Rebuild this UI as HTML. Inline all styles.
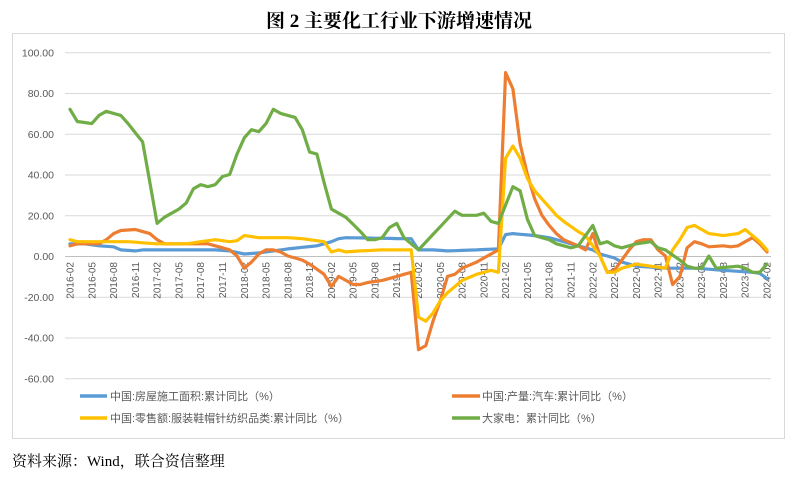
<!DOCTYPE html>
<html><head><meta charset="utf-8"><style>
body{margin:0;background:#fff;width:799px;height:480px;overflow:hidden}
svg{display:block}
</style></head><body>
<svg id="s" width="799" height="480" xmlns="http://www.w3.org/2000/svg">
<text x="399" y="27" text-anchor="middle" font-family="Liberation Serif,'Noto Serif CJK SC',serif" font-size="19" font-weight="bold" fill="#000">图 2  主要化工行业下游增速情况</text>
<rect x="12.5" y="33.5" width="772" height="405" fill="none" stroke="#d9d9d9"/>
<g id="grid" stroke="#d9d9d9" stroke-width="1"></g>
<g id="ylab" font-family="Liberation Sans,sans-serif" font-size="10.5" fill="#595959" text-anchor="end"></g>
<g id="xlab" font-family="Liberation Sans,sans-serif" font-size="10" fill="#595959"></g>
<g id="lines" fill="none" stroke-width="3.2" stroke-linejoin="round" stroke-linecap="round"></g>
<g font-family="Liberation Sans,'Noto Sans CJK SC',sans-serif" font-size="11" fill="#595959">
<line x1="80" y1="396" x2="107" y2="396" stroke="#5B9BD5" stroke-width="3.5"/>
<text x="110" y="400">中国:房屋施工面积:累计同比（%）</text>
<line x1="452" y1="396" x2="480" y2="396" stroke="#ED7D31" stroke-width="3.5"/>
<text x="482" y="400">中国:产量:汽车:累计同比（%）</text>
<line x1="80" y1="418" x2="107" y2="418" stroke="#FFC000" stroke-width="3.5"/>
<text x="110" y="422">中国:零售额:服装鞋帽针纺织品类:累计同比（%）</text>
<line x1="452" y1="418" x2="480" y2="418" stroke="#70AD47" stroke-width="3.5"/>
<text x="482" y="422">大家电：累计同比（%）</text>
</g>
<text x="12" y="466" font-family="Liberation Serif,'Noto Serif CJK SC',serif" font-size="15" fill="#000">资料来源：Wind，联合资信整理</text>
</svg>
<script>
var NS="http://www.w3.org/2000/svg";
function el(t,a,p,txt){var e=document.createElementNS(NS,t);for(var k in a)e.setAttribute(k,a[k]);if(txt!==undefined)e.textContent=txt;document.getElementById(p).appendChild(e);return e;}
function X(i){return 70+i*697/96;}
function Y(v){return 256-v*2.0375;}
for(var v=100;v>=-60;v-=20){var y=Y(v);if(v!==0)el('line',{x1:65,x2:771,y1:y+.5,y2:y+.5},'grid');el('text',{x:54,y:y+4},'ylab',v.toFixed(2));}
el('line',{x1:65,x2:771,y1:256.5,y2:256.5,stroke:'#bfbfbf'},'grid');
for(var i=0;i<=96;i+=3){var yr=2016+Math.floor((i+1)/12);var m=((i+1)%12)+1;var s=yr+'-'+(m<10?'0':'')+m;var x=X(i)+3.5;el('text',{x:0,y:0,transform:'translate('+x+',262) rotate(-90)','text-anchor':'end'},'xlab',s);}
function interp(a){var out=[];for(var k=0;k<a.length-1;k++){var p=a[k],q=a[k+1];for(var i=p[0];i<q[0];i++){out.push([i,p[1]+(q[1]-p[1])*(i-p[0])/(q[0]-p[0])]);}}out.push(a[a.length-1]);return out.map(function(d){return X(d[0]).toFixed(1)+','+Y(d[1]).toFixed(1)}).join(' ');}
var blue=[[0,6],[2,6],[4,5],[6,4.5],[7,3],[9,2.5],[10,3],[20,3],[22,2.5],[24,1],[26,1.5],[30,3.5],[34,5],[35,6],[36,7],[37,8.5],[38,9],[46,8.5],[47,8.5],[48,3],[50,3],[52,2.5],[56,3],[59,3.5],[60,10.5],[61,11],[64,10],[66,9],[68,7],[70,5],[72,3],[73,1],[74,0],[75,-1],[76,-3],[78,-5],[80,-5.5],[82,-6],[84,-6],[86,-6],[88,-6.5],[90,-7],[92,-7.5],[94,-8],[95,-8.5],[96,-11]];
var orange=[[0,5],[1,6],[4,6],[5,8],[6,11],[7,12.5],[9,13],[10,12],[11,11],[12,8],[13,6],[19,6],[20,5],[22,3],[23,0],[24,-6],[25,-3],[26,1],[27,3],[28,3],[29,2],[30,0],[32,-2],[33,-4],[35,-9],[36,-15],[37,-10],[38,-12],[39,-14],[40,-14],[41,-13],[43,-12],[45,-10],[47,-8],[48,-46],[49,-44],[50,-32],[51,-22],[52,-10],[53,-9],[54,-6],[56,-3],[57,-1],[59,3],[60,90],[61,82],[62,55],[63,40],[64,28],[65,20],[66,15],[67,11],[68,8],[70,5],[71,3],[72,11],[73,0],[74,-8],[75,-7],[76,-2],[77,3],[78,7],[79,8],[80,8],[81,3],[82,0],[83,-14],[84,-10],[85,4],[86,7],[87,6],[88,4.5],[90,5],[91,4.5],[92,5],[93,7],[94,9],[95,6],[96,2]];
var yellow=[[0,8],[1,7],[8,7],[10,6.5],[12,6],[16,6],[18,7],[20,8],[22,7],[23,7.5],[24,10],[26,9],[30,9],[32,8.5],[35,7],[36,2],[37,3],[38,2],[40,2.5],[43,3],[47,3],[48,-30],[49,-32],[50,-28],[51,-22],[52,-18],[53,-15],[54,-12],[56,-9],[58,-7],[59,-8],[60,48],[61,54],[62,48],[63,38],[64,32],[65,28],[66,24],[67,20],[68,17],[70,12],[71,10],[72,5],[73,0],[74,-8],[75,-8],[76,-6],[78,-4],[80,-5],[82,-6],[83,3],[84,8],[85,14],[86,15],[87,13],[88,11],[90,10],[92,11],[93,13],[95,7],[96,3]];
var green=[[0,72],[1,66],[3,65],[4,69],[5,71],[7,69],[8,65],[10,56],[12,16],[13,19],[15,23],[16,26],[17,33],[18,35],[19,34],[20,35],[21,39],[22,40],[23,50],[24,58],[25,62],[26,61],[27,65],[28,72],[29,70],[31,68],[32,62],[33,51],[34,50],[35,36],[36,23],[38,19],[40,12],[41,8],[42,8],[43,9],[44,14],[45,16],[46,9],[48,3],[53,22],[54,20],[56,20],[57,21],[58,17],[59,16],[61,34],[62,32],[63,18],[64,10],[66,8],[67,6],[69,4],[70,5],[72,15],[73,6],[74,7],[75,5],[76,4],[78,6],[80,7],[81,4],[82,3],[84,-2],[85,-5],[86,-6],[87,-6],[88,0],[89,-6],[92,-5],[93,-6],[94,-8],[95,-8],[96,-4]];
[[blue,'#5B9BD5'],[orange,'#ED7D31'],[yellow,'#FFC000'],[green,'#70AD47']].forEach(function(s){el('polyline',{points:interp(s[0]),stroke:s[1]},'lines');});
</script>
</body></html>
